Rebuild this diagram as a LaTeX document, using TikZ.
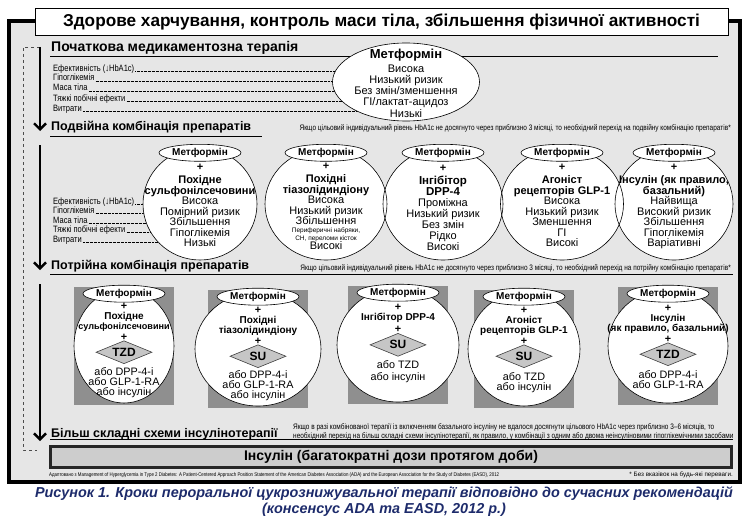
\documentclass[tikz,border=0pt]{standalone}
\usepackage{fontspec}
\setmainfont{Liberation Sans}
\newfontfamily\narrowfont[FakeStretch=0.82]{Liberation Sans}
\usetikzlibrary{positioning,arrows.meta,shapes.geometric}
\definecolor{panelgrey}{HTML}{E6E6E6}
\definecolor{shadegrey}{HTML}{8F8F8F}
\definecolor{diagrey}{HTML}{C6C6C6}
\definecolor{boxgrey}{HTML}{CDCDCD}
\definecolor{capblue}{HTML}{1D2B6B}
\newcommand{\fsz}[2]{\fontsize{#1}{#2}\selectfont}
\def\duallist{1/200/114,2/326/122,3/443/120,4/562/123,5/674/118}

\begin{document}
\begin{tikzpicture}[x=1pt,y=-1pt,
  hd/.style={anchor=west,inner sep=1pt,font=\bfseries\fsz{12.5}{15}},
  crit/.style={anchor=base west,inner sep=0pt,font=\narrowfont\fsz{9.2}{9}},
  lead/.style={line width=0.45pt,dash pattern=on 0.45pt off 0.9pt},
  note/.style={inner sep=0pt,font=\narrowfont\fsz{7.9}{9}},
  rule/.style={line width=0.8pt},
  flow/.style={line width=2.4pt,-{Straight Barb[length=6pt,width=12pt]}},
  bigel/.style={ellipse,draw,fill=white,line width=0.6pt,inner sep=0pt},
  met/.style={ellipse,draw,fill=white,line width=0.6pt,inner sep=0pt,minimum width=82pt,minimum height=17pt,font=\bfseries\fsz{10}{12}},
  ctext/.style={align=center,inner sep=0pt,font=\fsz{11}{10.5}},
  ttext/.style={align=center,inner sep=0pt,font=\fsz{10.8}{10.4}},
  dualc/.style={ellipse,inner sep=0pt,minimum height=112pt},
  tripc/.style={ellipse,draw,fill=white,line width=0.6pt,inner sep=0pt,minimum height=114pt},
  panel/.style={fill=shadegrey,inner sep=0pt,minimum width=100pt,minimum height=118pt},
  dia/.style={diamond,draw=black!75,fill=diagrey,line width=0.6pt,aspect=2.5,inner sep=0pt,minimum width=56pt,minimum height=23pt,font=\bfseries\fsz{12}{12}},
]
\useasboundingbox (0,0) rectangle (750,519);

% frame
\fill[panelgrey] (10,21) rectangle (740,481);
\draw[line width=3.5pt] (35,21) -- (9,21) -- (9,482) -- (740,482) -- (740,21) -- (728,21);
\node[draw,fill=white,line width=0.7pt,inner sep=0pt,minimum width=693pt,minimum height=27pt,font=\bfseries\fsz{17.2}{18}] (title) at (381.5,21.5) {Здорове харчування, контроль маси тіла, збільшення фізичної активності};

% step arrows
\coordinate (s1) at (40,47);
\coordinate (e1) at (40,131);
\coordinate (s2) at (40,145);
\coordinate (e2) at (40,270);
\coordinate (s3) at (40,284);
\coordinate (e3) at (40,441);
\coordinate (dtop) at (23,47);
\coordinate (dbot) at (23,450);
\coordinate (dend) at (37,450);
\draw[dashed,line width=0.7pt,black!70] (s1) -- (dtop) -- (dbot) -- (dend);
\draw[flow] (s1) -- (e1);
\draw[flow] (s2) -- (e2);
\draw[flow] (s3) -- (e3);

% headings
\node[hd,font=\bfseries\fsz{14}{15}] (hdinit) at (50,48) {Початкова медикаментозна терапія};
\node[hd] (hddual) at (50,127) {Подвійна комбінація препаратів};
\node[hd] (hdtrip) at (50,266) {Потрійна комбінація препаратів};
\node[hd] (hdins) at (50,434) {Більш складні схеми інсулінотерапії};
\draw[rule] ([yshift=-1pt]hdinit.south west) -- ++(668,0);
\draw[rule] ([yshift=-2pt]hddual.south west) -- ([yshift=-2pt,xshift=10pt]hddual.south east);
\draw[rule] ([yshift=-1pt]hdtrip.south west) -- ++(683,0);
\draw[rule] ([yshift=1.5pt]hdins.south west) -- ++(683,0);

\node[note,anchor=east] (ndual) at (731,128) {Якщо цільовий індивідуальний рівень HbA1c не досягнуто через приблизно 3 місяці, то необхідний перехід на подвійну комбінацію препаратів*};
\node[note,anchor=east] (ntrip) at (731,268) {Якщо цільовий індивідуальний рівень HbA1c не досягнуто через приблизно 3 місяці, то необхідний перехід на потрійну комбінацію препаратів*};
\node[note,anchor=west,align=left] (nins) at (293,432) {Якщо в разі комбінованої терапії із включенням базального інсуліну не вдалося досягнути цільового HbA1c через приблизно 3–6 місяців, то\\необхідний перехід на більш складні схеми інсулінотерапії, як правило, у комбінації з одним або двома неінсуліновими гіпоглікемічними засобами};

% initial therapy
\coordinate (m0) at (406,82);
\foreach \t [count=\k] in {Ефективність (↓HbA1c),Гіпоглікемія,Маса тіла,Тяжкі побічні ефекти,Витрати}
  \node[crit] (ca\k) at (53,{61+10*\k}) {\t};
\foreach \k in {1,...,5}
  \draw[lead] ([xshift=1pt]ca\k.base east) -- (ca\k.base east -| m0);
\node[bigel,minimum width=147pt,minimum height=78pt] (metf0) at (m0) {};
\node[ctext,font=\fsz{11}{11.2}] (metf0txt) at (406,83) {{\bfseries\fsz{13}{13}Метформін}\\[3pt]Висока\\Низький ризик\\Без змін/зменшення\\ГІ/лактат-ацидоз\\Низькі};

% dual combination
\coordinate (m1) at (200,204);
\foreach \t [count=\k] in {Ефективність (↓HbA1c),Гіпоглікемія,Маса тіла,Тяжкі побічні ефекти,Витрати}
  \node[crit] (cb\k) at (53,{194.5+9.5*\k}) {\t};
\foreach \k in {1,...,5}
  \draw[lead] ([xshift=1pt]cb\k.base east) -- (cb\k.base east -| m1);
\foreach \i/\x/\w in \duallist
  \node[dualc,fill=white,minimum width=\w pt] (dual\i) at (\x,204) {};
\foreach \i/\x/\w in \duallist
  \node[dualc,draw,line width=0.6pt,minimum width=\w pt] at (\x,204) {};
\foreach \i in {1,...,5}
  \node[met] (dm\i) at ([yshift=-5pt]dual\i.north) {Метформін};

\node[ctext,below=2pt of dm1] (dt1) {\textbf{+}\\[3pt]\textbf{Похідне}\\\textbf{сульфонілсечовини}\\Висока\\Помірний ризик\\Збільшення\\Гіпоглікемія\\Низькі};
\node[ctext,below=1pt of dm2] (dt2) {\textbf{+}\\[3pt]\textbf{Похідні}\\\textbf{тіазолідиндіону}\\Висока\\Низький ризик\\Збільшення\\[-2.5pt]{\fsz{6.5}{7}Периферичні набряки,}\\[-3pt]{\fsz{6.5}{7}СН, переломи кісток}\\[-1.5pt]Високі};
\node[ctext,font=\fsz{11}{11},below=3pt of dm3] (dt3) {\textbf{+}\\[2pt]{\bfseries\fsz{11.5}{12}Інгібітор}\\{\bfseries\fsz{11.5}{12}DPP-4}\\Проміжна\\Низький ризик\\Без змін\\Рідко\\Високі};
\node[ctext,below=2pt of dm4] (dt4) {\textbf{+}\\[3pt]\textbf{Агоніст}\\\textbf{рецепторів GLP-1}\\Висока\\Низький ризик\\Зменшення\\ГІ\\Високі};
\node[ctext,below=2pt of dm5] (dt5) {\textbf{+}\\[3pt]\textbf{Інсулін (як правило,}\\\textbf{базальний)}\\Найвища\\Високий ризик\\Збільшення\\Гіпоглікемія\\Варіативні};

% triple combination
\foreach \i/\x/\y/\w in {1/124/346/100,2/258/349/126,3/398/345/122,4/524/349/112,5/668/346/120}{
  \node[panel] (pan\i) at (\x,\y) {};
  \node[tripc,minimum width=\w pt] (trip\i) at (\x,\y) {};
  \node[met,minimum width=82pt] (tm\i) at ([yshift=-5pt]trip\i.north) {Метформін};
}
\node[ttext,below=0pt of tm1] (tu1) {\textbf{+}\\{\bfseries\fsz{10}{10}Похідне}\\{\bfseries\fsz{9.1}{10}сульфонілсечовини}\\\textbf{+}};
\node[dia,below=0pt of tu1] (tz1) {TZD};
\node[ttext,below=3pt of tz1] (tl1) {або DPP-4-i\\або GLP-1-RA\\або інсулін};

\node[ttext,below=1pt of tm2] (tu2) {\textbf{+}\\{\bfseries\fsz{10}{10}Похідні}\\{\bfseries\fsz{10}{10}тіазолідиндіону}\\\textbf{+}};
\node[dia,below=0pt of tu2] (tz2) {SU};
\node[ttext,below=2pt of tz2] (tl2) {або DPP-4-i\\або GLP-1-RA\\або інсулін};

\node[ttext,below=2pt of tm3] (tu3) {\textbf{+}\\{\bfseries\fsz{10}{10}Інгібітор DPP-4}\\[2pt]\textbf{+}};
\node[dia,below=0pt of tu3] (tz3) {SU};
\node[ttext,font=\fsz{10.8}{12},below=4pt of tz3] (tl3) {або TZD\\або інсулін};

\node[ttext,below=1pt of tm4] (tu4) {\textbf{+}\\{\bfseries\fsz{10}{10}Агоніст}\\{\bfseries\fsz{10}{10}рецепторів GLP-1}\\\textbf{+}};
\node[dia,below=0pt of tu4] (tz4) {SU};
\node[ttext,below=4pt of tz4] (tl4) {або TZD\\або інсулін};

\node[ttext,below=2pt of tm5] (tu5) {\textbf{+}\\{\bfseries\fsz{10}{10}Інсулін}\\{\bfseries\fsz{10}{10}(як правило, базальний)}\\\textbf{+}};
\node[dia,below=0pt of tu5] (tz5) {TZD};
\node[ttext,below=4pt of tz5] (tl5) {або DPP-4-i\\або GLP-1-RA};

% insulin
\node[draw=black!85,line width=3pt,fill=boxgrey,inner sep=0pt,minimum width=681pt,minimum height=21pt,font=\bfseries\fsz{14}{16}] (insbox) at (391,457) {Інсулін (багатократні дози протягом доби)};
\node[note,anchor=west,font=\narrowfont\fsz{5.35}{6}] (src) at (49,475) {Адаптовано з Management of Hyperglycemia in Type 2 Diabetes: A Patient-Centered Approach Position Statement of the American Diabetes Association (ADA) and the European Association for the Study of Diabetes (EASD), 2012};
\node[note,anchor=east,font=\fsz{6.3}{7}] (nopref) at (733,475) {* Без вказівок на будь-які переваги.};

% caption
\node[align=center,inner sep=0pt,text=capblue,font=\bfseries\itshape\fsz{14.4}{16}] (caption) at (384,502) {Рисунок 1. Кроки пероральної цукрознижувальної терапії відповідно до сучасних рекомендацій\\(консенсус ADA та EASD, 2012 р.)};
\end{tikzpicture}
\end{document}
